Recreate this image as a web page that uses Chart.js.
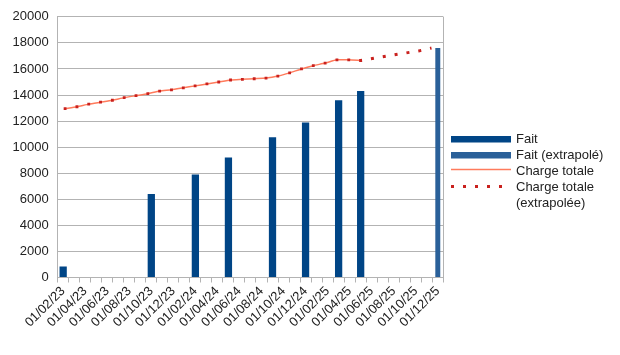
<!DOCTYPE html>
<html lang="fr">
<head>
  <meta charset="UTF-8">
  <title>Charge totale</title>
  <script src="https://cdn.jsdelivr.net/npm/chart.js"></script>
  <style>
    body {
      margin: 0;
      background-color: #fff;
    }
    .chart-container {
      position: relative;
      width: 620px;
      height: 355px;
    }
  </style>
</head>
<body>
  <div class="chart-container">
    <canvas id="chargeChart"></canvas>
  </div>

  <script>
    // Monthly categories of the x axis
    const months = [
      '01/02/23', '01/03/23', '01/04/23', '01/05/23', '01/06/23', '01/07/23',
      '01/08/23', '01/09/23', '01/10/23', '01/11/23', '01/12/23',
      '01/01/24', '01/02/24', '01/03/24', '01/04/24', '01/05/24', '01/06/24',
      '01/07/24', '01/08/24', '01/09/24', '01/10/24', '01/11/24', '01/12/24',
      '01/01/25', '01/02/25', '01/03/25', '01/04/25', '01/05/25', '01/06/25',
      '01/07/25', '01/08/25', '01/09/25', '01/10/25', '01/11/25', '01/12/25'
    ];

    // Bars (one value per month, empty months are null)
    const fait = [
      850, null, null, null, null, null, null, null, 6400, null, null,
      null, 7900, null, null, 9200, null, null, null, 10750, null, null, 11900,
      null, null, 13600, null, 14300, null, null, null, null, null, null, null
    ];
    const faitExtrapole = [
      null, null, null, null, null, null, null, null, null, null, null,
      null, null, null, null, null, null, null, null, null, null, null, null,
      null, null, null, null, null, null, null, null, null, null, null, 17600
    ];

    // Total load line, indexed by point number
    const chargeTotale = [
      12950, 13100, 13300, 13450, 13600, 13800, 13950, 14100, 14300, 14400,
      14550, 14700, 14850, 15000, 15150, 15200, 15250, 15300, 15450, 15700,
      16000, 16250, 16450, 16700, 16700, 16650
    ];
    const chargeExtrapoleeStart = 25;
    const chargeExtrapolee = [16650, 16800, 16950, 17100, 17250, 17400, 17600];

    const yTicks = { min: 0, max: 20000, step: 2000 };

    const toPoints = (values, start) => values.map((v, i) => ({ x: start + i, y: v }));

    Chart.defaults.font.family = '"Liberation Sans", Arial, sans-serif';
    Chart.defaults.font.size = 13;
    Chart.defaults.color = '#222';

    const gridColor = '#b3b3b3';

    // Frame on the right side + legend drawn next to the plot
    const sideLegend = {
      id: 'sideLegend',
      afterDraw(chart) {
        const c = chart.ctx;
        const area = chart.chartArea;
        const ds = chart.data.datasets;
        c.save();

        const rx = Math.round(area.right) + 0.5;
        c.strokeStyle = gridColor;
        c.lineWidth = 1;
        c.beginPath();
        c.moveTo(rx, area.top);
        c.lineTo(rx, area.bottom);
        c.stroke();

        const x0 = 451, w = 60, tx = 516;
        c.font = '13px "Liberation Sans", Arial, sans-serif';
        c.textBaseline = 'middle';

        c.fillStyle = ds[0].backgroundColor;
        c.fillRect(x0, 136, w, 6.5);
        c.fillStyle = ds[1].backgroundColor;
        c.fillRect(x0, 152, w, 6.5);

        c.strokeStyle = ds[2].borderColor;
        c.lineWidth = 1.5;
        c.beginPath();
        c.moveTo(x0, 169.5);
        c.lineTo(x0 + w, 169.5);
        c.stroke();

        c.strokeStyle = ds[3].borderColor;
        c.lineWidth = 3;
        c.setLineDash([3, 9]);
        c.beginPath();
        c.moveTo(x0, 186.5);
        c.lineTo(x0 + w, 186.5);
        c.stroke();
        c.setLineDash([]);

        c.fillStyle = '#222';
        c.fillText(ds[0].label, tx, 139.5);
        c.fillText(ds[1].label, tx, 155.5);
        c.fillText(ds[2].label, tx, 171);
        c.fillText('Charge totale', tx, 187);
        c.fillText('(extrapolée)', tx, 203);
        c.restore();
      }
    };

    const ctx = document.getElementById('chargeChart').getContext('2d');
    const chargeChart = new Chart(ctx, {
      type: 'bar',
      data: {
        labels: months,
        datasets: [
          {
            label: 'Fait',
            data: fait,
            backgroundColor: '#004586',
            grouped: false,
            categoryPercentage: 1,
            barPercentage: 0.66,
            order: 3
          },
          {
            label: 'Fait (extrapolé)',
            data: faitExtrapole,
            backgroundColor: '#2a6099',
            grouped: false,
            categoryPercentage: 1,
            barPercentage: 0.45,
            order: 2
          },
          {
            type: 'line',
            label: 'Charge totale',
            data: toPoints(chargeTotale, 0),
            xAxisID: 'xl',
            borderColor: '#ff7b5c',
            borderWidth: 1.5,
            tension: 0.2,
            pointStyle: 'rect',
            pointRadius: 2,
            pointBorderWidth: 0,
            pointBackgroundColor: '#c9211e',
            pointBorderColor: '#c9211e',
            order: 1
          },
          {
            type: 'line',
            label: 'Charge totale (extrapolée)',
            data: toPoints(chargeExtrapolee, chargeExtrapoleeStart),
            xAxisID: 'xl',
            borderColor: '#c9211e',
            borderWidth: 3,
            borderDash: [3, 9],
            borderDashOffset: 1.5,
            borderCapStyle: 'butt',
            pointRadius: 0,
            order: 0
          }
        ]
      },
      options: {
        responsive: true,
        maintainAspectRatio: false,
        animation: false,
        layout: {
          autoPadding: false,
          padding: { left: 3.5, top: 13, right: 176.7, bottom: 23.7 }
        },
        plugins: {
          legend: { display: false },
          tooltip: { enabled: false }
        },
        scales: {
          x: {
            offset: true,
            grid: {
              offset: true,
              drawOnChartArea: false,
              color: gridColor,
              tickLength: 5
            },
            border: { color: gridColor },
            ticks: {
              autoSkip: false,
              minRotation: 45,
              maxRotation: 45,
              padding: 1,
              callback: (value, index) => index % 2 === 0 ? months[index] : ''
            }
          },
          xl: {
            type: 'linear',
            display: false,
            offset: false,
            bounds: 'data',
            grid: { offset: false },
            min: -0.63,
            max: 32
          },
          y: {
            min: yTicks.min,
            max: yTicks.max,
            ticks: {
              stepSize: yTicks.step,
              padding: 9,
              callback: value => String(value)
            },
            grid: { color: gridColor, drawTicks: false },
            border: { color: gridColor }
          }
        }
      },
      plugins: [sideLegend]
    });
  </script>
</body>
</html>
